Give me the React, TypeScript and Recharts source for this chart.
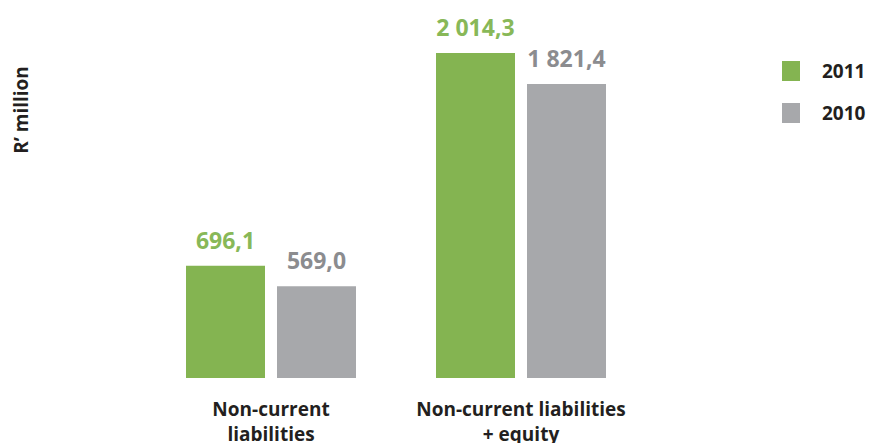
import { Bar, BarChart, LabelList, Legend, XAxis, YAxis } from "recharts";

// Balance sheet items, R' million
const categories = ["Non-current\nliabilities", "Non-current liabilities\n+ equity"];
const values2011 = [696.1, 2014.3];
const values2010 = [569.0, 1821.4];
const seriesNames = ["2011", "2010"];

const GREEN = "#84b451";
const GREY = "#a7a8ab";
const GREEN_TXT = "#88b858";
const GREY_TXT = "#8b8c8f";
const FONT = "'Open Sans', 'Noto Sans', sans-serif";

const rows = categories.map((name, i) => ({ name, y2011: values2011[i], y2010: values2010[i] }));

// "2 014,3" style: space thousands, comma decimal
const fmt = (v: unknown) => {
  const [int, dec] = (v as number).toFixed(1).split(".");
  return int.replace(/\B(?=(\d{3})+(?!\d))/g, " ") + "," + dec;
};

function CategoryTick(props: any) {
  const { x, y, payload } = props;
  const lines = String(payload.value).split("\n");
  return (
    <text x={x} y={y} textAnchor="middle" fill="#231f20" fontFamily={FONT} fontWeight={700} fontSize={19}>
      {lines.map((l, i) => (
        <tspan key={i} x={x} dy={i === 0 ? 38 : 25}>{l}</tspan>
      ))}
    </text>
  );
}

function LegendBox() {
  const colors = [GREEN, GREY];
  return (
    <div style={{ fontFamily: FONT, fontWeight: 700, fontSize: 19, color: "#231f20" }}>
      {seriesNames.map((s, i) => (
        <div key={s} style={{ display: "flex", alignItems: "center", height: 21, marginBottom: i === 0 ? 21 : 0 }}>
          <span style={{ width: 18, height: 20, background: colors[i], display: "inline-block", marginRight: 22 }} />
          <span>{s}</span>
        </div>
      ))}
    </div>
  );
}

export default function App() {
  return (
    <div style={{ position: "absolute", left: 0, top: 0, background: "#fff" }}>
      <BarChart width={874} height={443} data={rows} margin={{ top: 23, right: 136, bottom: 0, left: 0 }}
        barGap={12} barSize={79}>
        <XAxis dataKey="name" axisLine={false} tickLine={false} tickSize={0} tickMargin={0} height={65}
          interval={0} tick={<CategoryTick />} />
        <YAxis width={146} domain={[0, 2200]} tick={false} axisLine={false} tickLine={false}
          label={({ viewBox }: any) => (
            <text x={viewBox.x + 28} y={viewBox.y + 87} transform={`rotate(-90 ${viewBox.x + 28} ${viewBox.y + 87})`}
              textAnchor="middle" fill="#231f20" fontFamily={FONT} fontWeight={700} fontSize={19}>
              R’ million
            </text>
          )} />
        <Legend layout="vertical" verticalAlign="top" align="right" content={<LegendBox />}
          wrapperStyle={{ position: "absolute", left: 782, top: 60, width: 92 }} />
        <Bar dataKey="y2011" name="2011" fill={GREEN} isAnimationActive={false}>
          <LabelList dataKey="y2011" position="top" offset={17} formatter={fmt}
            style={{ fill: GREEN_TXT, fontFamily: FONT, fontWeight: 700, fontSize: 23 }} />
        </Bar>
        <Bar dataKey="y2010" name="2010" fill={GREY} isAnimationActive={false}>
          <LabelList dataKey="y2010" position="top" offset={17} formatter={fmt}
            style={{ fill: GREY_TXT, fontFamily: FONT, fontWeight: 700, fontSize: 23 }} />
        </Bar>
      </BarChart>
    </div>
  );
}
